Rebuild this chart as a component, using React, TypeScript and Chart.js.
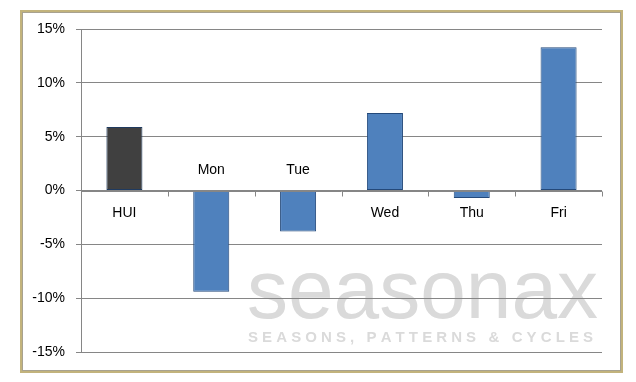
import React, { useEffect, useRef } from "react";
import { Chart, registerables } from "chart.js";

Chart.register(...registerables);

const categories = ["HUI", "Mon", "Tue", "Wed", "Thu", "Fri"];
const values = [5.9, -9.4, -3.8, 7.2, -0.7, 13.3];
const yTicks = [-15, -10, -5, 0, 5, 10, 15];
const watermarkTitle = "seasonax";
const watermarkSub = "SEASONS, PATTERNS & CYCLES";

const FONT = "'Liberation Sans', Arial, sans-serif";

const framePlugin = {
  id: "frame",
  beforeDraw(chart: any) {
    const ctx = chart.ctx;
    const { scales } = chart;
    ctx.save();
    // outer frame
    ctx.strokeStyle = "#C2B37C";
    ctx.lineWidth = 2;
    ctx.strokeRect(21, 11, 601, 361);
    ctx.strokeStyle = "#A8A290";
    ctx.lineWidth = 1;
    ctx.strokeRect(22.5, 12.5, 598, 358);
    // watermark
    const yScale = scales.y;
    ctx.fillStyle = "#DADADA";
    ctx.font = `84px ${FONT}`;
    ctx.textBaseline = "alphabetic";
    ctx.textAlign = "left";
    const targetW = 351;
    const w = ctx.measureText(watermarkTitle).width;
    const x0 = 247;
    const baseY = yScale.getPixelForValue(-11.8);
    ctx.save();
    ctx.translate(x0, baseY);
    ctx.scale(targetW / w, 1);
    ctx.fillText(watermarkTitle, 0, 0);
    ctx.restore();
    ctx.font = `bold 15px ${FONT}`;
    const chars = watermarkSub.split("");
    const widths = chars.map((c) => ctx.measureText(c).width);
    const total = widths.reduce((a, b) => a + b, 0);
    const subW = 345;
    const gap = (subW - total) / (chars.length - 1);
    let cx = 248;
    const subY = yScale.getPixelForValue(-14.1);
    chars.forEach((c, i) => {
      ctx.fillText(c, cx, subY);
      cx += widths[i] + gap;
    });
    ctx.restore();
  },
  afterDatasetsDraw(chart: any) {
    const ctx = chart.ctx;
    const { chartArea, scales } = chart;
    const zeroY = Math.round(scales.y.getPixelForValue(0)) + 0.5;
    ctx.save();
    ctx.strokeStyle = "#868686";
    ctx.lineWidth = 1;
    ctx.beginPath();
    ctx.moveTo(chartArea.left, zeroY);
    ctx.lineTo(chartArea.right, zeroY);
    const n = categories.length;
    const cw = (chartArea.right - chartArea.left) / n;
    for (let i = 1; i <= n; i++) {
      const x = Math.round(chartArea.left + i * cw) + 0.5;
      ctx.moveTo(x, zeroY);
      ctx.lineTo(x, zeroY + 5);
    }
    ctx.stroke();
    // category labels near the zero line
    ctx.fillStyle = "#000";
    ctx.font = `14px ${FONT}`;
    ctx.textAlign = "center";
    ctx.textBaseline = "middle";
    categories.forEach((c, i) => {
      const x = scales.x.getPixelForValue(i);
      const above = values[i] < -2;
      ctx.fillText(c, x, above ? zeroY - 21 : zeroY + 22);
    });
    ctx.restore();
  },
};

export default function App() {
  const ref = useRef<HTMLCanvasElement>(null);
  useEffect(() => {
    if (!ref.current) return;
    const chart = new Chart(ref.current, {
      type: "bar",
      data: {
        labels: categories,
        datasets: [
          {
            data: values,
            backgroundColor: values.map((_, i) => (i === 0 ? "#404040" : "#4F81BD")),
            borderColor: values.map((_, i) => (i === 0 ? "#1F3A5F" : "#24497A")),
            borderWidth: 1,
            borderSkipped: false,
            barPercentage: 0.415,
            categoryPercentage: 1,
          },
        ],
      },
      options: {
        responsive: false,
        animation: false,
        devicePixelRatio: 1,
        layout: { padding: { top: 29, right: 34, bottom: 30, left: 0 } },
        plugins: { legend: { display: false }, tooltip: { enabled: false } },
        scales: {
          x: {
            display: false,
          },
          y: {
            min: -15,
            max: 15,
            afterFit(scale: any) {
              scale.width = 81;
            },
            afterBuildTicks(scale: any) {
              scale.ticks = yTicks.map((v) => ({ value: v }));
            },
            ticks: {
              color: "#000",
              font: { family: FONT, size: 14 },
              padding: 11,
              callback: (v: any) => `${v}%`,
            },
            grid: {
              color: "#868686",
              lineWidth: 1,
              tickLength: 5,
              drawOnChartArea: true,
            },
            border: { color: "#868686", width: 1 },
          },
        },
      },
      plugins: [framePlugin],
    });
    return () => chart.destroy();
  }, []);
  return (
    <div style={{ position: "fixed", left: 0, top: 0, width: 636, height: 382, background: "#fff" }}>
      <canvas ref={ref} width={636} height={382} style={{ display: "block" }} />
    </div>
  );
}
